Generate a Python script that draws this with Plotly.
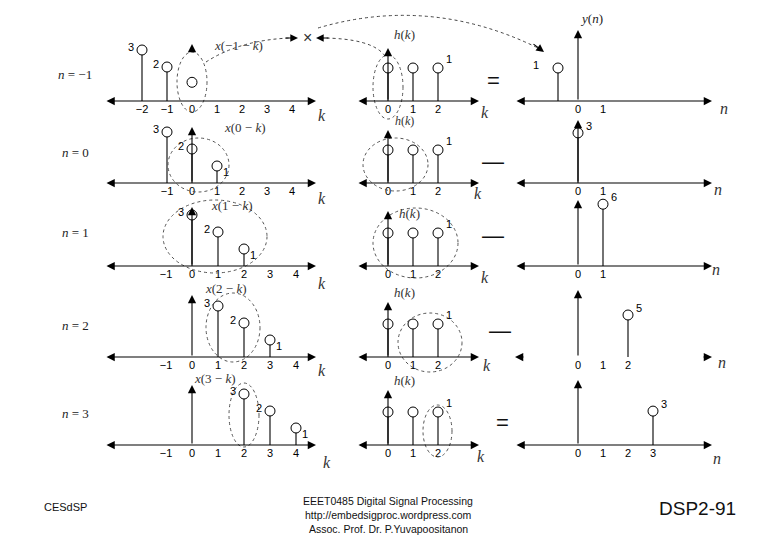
import plotly.graph_objects as go

# The page body has an 8px margin, so the figure is shifted by OFF and shrunk to fit.
OFF = 8
W, H = 780 - OFF, 540 - OFF

# ---------------- data ----------------
row_n = ["−1", "0", "1", "2", "3"]
x_k = [[-2, -1], [-1, 0, 1], [0, 1, 2], [1, 2, 3], [2, 3, 4]]
x_v = [[3, 2], [3, 2, 1], [3, 2, 1], [3, 2, 1], [3, 2, 1]]
x_free_k = [0]      # circle without stem in the n = -1 panel
x_free_v = [1.1]
h_k = [0, 1, 2]
h_v = [1, 1, 1]
y_n = [[-0.8], [0], [1], [2], [3]]
y_v = [[1], [3], [6], [5], [3]]
ticks_x = [[-2, -1, 0, 1, 2, 3, 4]] + [[-1, 0, 1, 2, 3, 4]] * 4
ticks_h = [0, 1, 2]
ticks_y = [[0, 1], [0, 1], [0, 1], [0, 1, 2], [0, 1, 2, 3]]
titles_x = ["x(−1 − k)", "x(0 − k)", "x(1 − k)", "x(2 − k)", "x(3 − k)"]
signs = ["=", "—", "—", "—", "="]

# ---------------- geometry (reference pixels) ----------------
base = [101, 183, 266, 357, 445]
geo = [
    dict(x0=192, ux=[25, 25, 26, 26, 26], uy=[17] * 5, left=105, right=316,
         vtop=[44, 127, 207, 295, 385]),
    dict(x0=388, ux=[25] * 5, uy=[33] * 5, left=357, right=479,
         vtop=[48, 130, 211, 302, 390]),
    dict(x0=578, ux=[25] * 5, uy=[33, 16.7, 10.3, 8.4, 11.3], left=515, right=712,
         vtop=[30, 120, 200, 290, 380]),
]

def px(x):
    return (x - OFF) / W

def py(y):
    return 1 - (y - OFF) / H

SANS = "Liberation Sans"
SERIF = "Liberation Serif"

fig = go.Figure()
layout = dict(width=W, height=H, margin=dict(l=0, r=0, t=0, b=0),
              paper_bgcolor="white", plot_bgcolor="white", showlegend=False)
annotations = []
shapes = []

def arrow(xref, yref, x, y, ax, ay, both=True):
    annotations.append(dict(
        xref=xref, yref=yref, axref=xref, ayref=yref, x=x, y=y, ax=ax, ay=ay,
        text="", showarrow=True, arrowhead=2, arrowsize=1.5, arrowwidth=1.1,
        startarrowhead=2, startarrowsize=1.5, arrowcolor="black",
        arrowside="end+start" if both else "end"))

for r in range(5):
    for c in range(3):
        idx = r * 3 + c + 1
        xa = "x" if idx == 1 else f"x{idx}"
        ya = "y" if idx == 1 else f"y{idx}"
        g = geo[c]
        x0, ux, uy = g["x0"], g["ux"][r], g["uy"][r]
        top_px = g["vtop"][r] - 3
        layout["xaxis" if idx == 1 else f"xaxis{idx}"] = dict(
            domain=[px(g["left"] - 4), px(g["right"] + 4)],
            range=[(g["left"] - 4 - x0) / ux, (g["right"] + 4 - x0) / ux],
            anchor=ya, showgrid=False, zeroline=False, showline=False,
            ticks="", tickvals=(ticks_x[r] if c == 0 else ticks_h if c == 1 else ticks_y[r]),
            tickfont=dict(family=SANS, size=11, color="black"), fixedrange=True)
        layout["yaxis" if idx == 1 else f"yaxis{idx}"] = dict(
            domain=[py(base[r]), py(top_px)],
            range=[0, (base[r] - top_px) / uy], anchor=xa, visible=False,
            fixedrange=True)

        if c == 0:
            ks, vs = x_k[r], x_v[r]
        elif c == 1:
            ks, vs = h_k, h_v
        else:
            ks, vs = y_n[r], y_v[r]

        sx, sy = [], []
        for k, v in zip(ks, vs):
            sx += [k, k, None]
            sy += [0, v, None]
        fig.add_trace(go.Scatter(x=sx, y=sy, mode="lines", xaxis=xa, yaxis=ya,
                                 line=dict(color="black", width=1.1),
                                 hoverinfo="skip", cliponaxis=False))
        mk, mv = list(ks), list(vs)
        if c == 0 and r == 0:
            mk += x_free_k
            mv += x_free_v
        fig.add_trace(go.Scatter(x=mk, y=mv, mode="markers", xaxis=xa, yaxis=ya,
                                 marker=dict(symbol="circle", size=10, color="white",
                                             line=dict(color="black", width=1)),
                                 cliponaxis=False))

        # value labels
        for i, (k, v) in enumerate(zip(ks, vs)):
            if c == 0:
                if v == 1:
                    xs, ys = 9, -6
                else:
                    xs, ys = -11, 3
            elif c == 1:
                if i != len(ks) - 1:
                    continue
                xs, ys = 11, 9
            else:
                if r == 0:
                    xs, ys = -22, 3
                else:
                    xs, ys = 11, 7
            annotations.append(dict(xref=xa, yref=ya, x=k, y=v, text=str(v),
                                    showarrow=False, xshift=xs, yshift=ys,
                                    font=dict(family=SANS, size=11, color="black")))

        # axes with arrows
        ld = (g["left"] - x0) / ux
        rd = (g["right"] - x0) / ux
        td = (base[r] - g["vtop"][r]) / uy
        if c == 2 and r == 3:
            arrow(xa, ya, ld, 0, ld + 10 / ux, 0, both=False)
            arrow(xa, ya, rd, 0, rd - 10 / ux, 0, both=False)
        else:
            arrow(xa, ya, rd, 0, ld, 0, both=True)
        if c == 0 and r == 0:
            arrow(xa, ya, 0, td, 0, td - 9 / uy, both=False)
        else:
            arrow(xa, ya, 0, td, 0, 0, both=False)

# ---------------- text labels (pixel placed) ----------------
def text(x, y, s, size=13, family=SERIF, color="#222", xanchor="center"):
    annotations.append(dict(xref="paper", yref="paper", x=px(x), y=py(y), text=s,
                            showarrow=False, xanchor=xanchor, yanchor="middle",
                            font=dict(family=family, size=size, color=color)))

def it(s):
    return s.replace("x(", "<i>x</i>(").replace("k)", "<i>k</i>)")

row_lab_y = [75, 152, 233, 325, 413]
for r in range(5):
    text(75, row_lab_y[r], f"<i>n</i> = {row_n[r]}", size=13)

tx = [(238, 46), (245, 127), (232, 206), (226, 288), (215, 378)]
for r in range(5):
    text(tx[r][0], tx[r][1], it(titles_x[r]), size=13, color="#333")

hx = [(404, 35), (404, 121), (410, 213), (404, 292), (404, 380)]
for r in range(5):
    text(hx[r][0], hx[r][1], "<i>h</i>(<i>k</i>)", size=12 if r == 1 else 13, color="#333")
text(591, 19, "<i>y</i>(<i>n</i>)", size=13, color="#222")

k1 = [(322, 116), (322, 198), (322, 283), (322, 370), (327, 462)]
k2 = [(485, 112), (478, 193), (485, 277), (487, 365), (481, 456)]
n3 = [(724, 108), (718, 190), (716, 270), (722, 362), (717, 458)]
for r in range(5):
    text(*k1[r], "<i>k</i>", size=16, color="#333")
    text(*k2[r], "<i>k</i>", size=16, color="#333")
    text(*n3[r], "<i>n</i>", size=16, color="#333")

sign_pos = [(493, 80), (493, 161), (493, 235), (500, 330), (503, 422)]
for r in range(5):
    text(*sign_pos[r], signs[r], size=22, family=SANS, color="#111")

text(307, 38, "×", size=16, family=SANS, color="#333")

# ---------------- dotted ellipses ----------------
ellipses = [(177, 52, 207, 112), (168, 138, 229, 192), (163, 200, 267, 273),
            (206, 293, 260, 362), (229, 383, 259, 447),
            (373, 55, 403, 119), (363, 138, 428, 191), (373, 208, 458, 278),
            (398, 313, 462, 372), (423, 405, 452, 457)]
for (a, b, c2, d) in ellipses:
    shapes.append(dict(type="circle", xref="paper", yref="paper",
                       x0=px(a), x1=px(c2), y0=py(d), y1=py(b),
                       line=dict(color="#555", width=1, dash="dot")))

def curve(p0, cp, p1):
    return dict(type="path", xref="paper", yref="paper",
                path=f"M {px(p0[0])},{py(p0[1])} Q {px(cp[0])},{py(cp[1])} {px(p1[0])},{py(p1[1])}",
                line=dict(color="#444", width=1, dash="dot"))

shapes.append(curve((206, 62), (240, 40), (290, 38)))
shapes.append(curve((385, 56), (372, 38), (320, 38)))
shapes.append(curve((318, 28), (430, -5), (538, 48)))

def head(x, y, ax, ay):
    annotations.append(dict(xref="paper", yref="paper", x=px(x), y=py(y), ax=ax, ay=ay,
                            text="", showarrow=True, arrowhead=2, arrowsize=1.4,
                            arrowwidth=1.1, arrowcolor="black"))

head(298, 38, -14, 0)
head(316, 38, 14, 0)
head(544, 52, -12, -9)

# ---------------- footer ----------------
FOOT = "Liberation Sans Narrow, Liberation Sans"
text(65, 507, "CESdSP", size=11, family=FOOT, color="#111")
text(388, 501, "EEET0485 Digital Signal Processing", size=10.5, family=FOOT, color="#111")
text(388, 515, "http://embedsigproc.wordpress.com", size=10.5, family=FOOT, color="#111")
text(388, 529, "Assoc. Prof. Dr. P.Yuvapoositanon", size=10.5, family=FOOT, color="#111")
text(697, 508, "DSP2-91", size=19, family=FOOT, color="#111")

layout["annotations"] = annotations
layout["shapes"] = shapes
fig.update_layout(**layout)
fig.write_html("out.html")
